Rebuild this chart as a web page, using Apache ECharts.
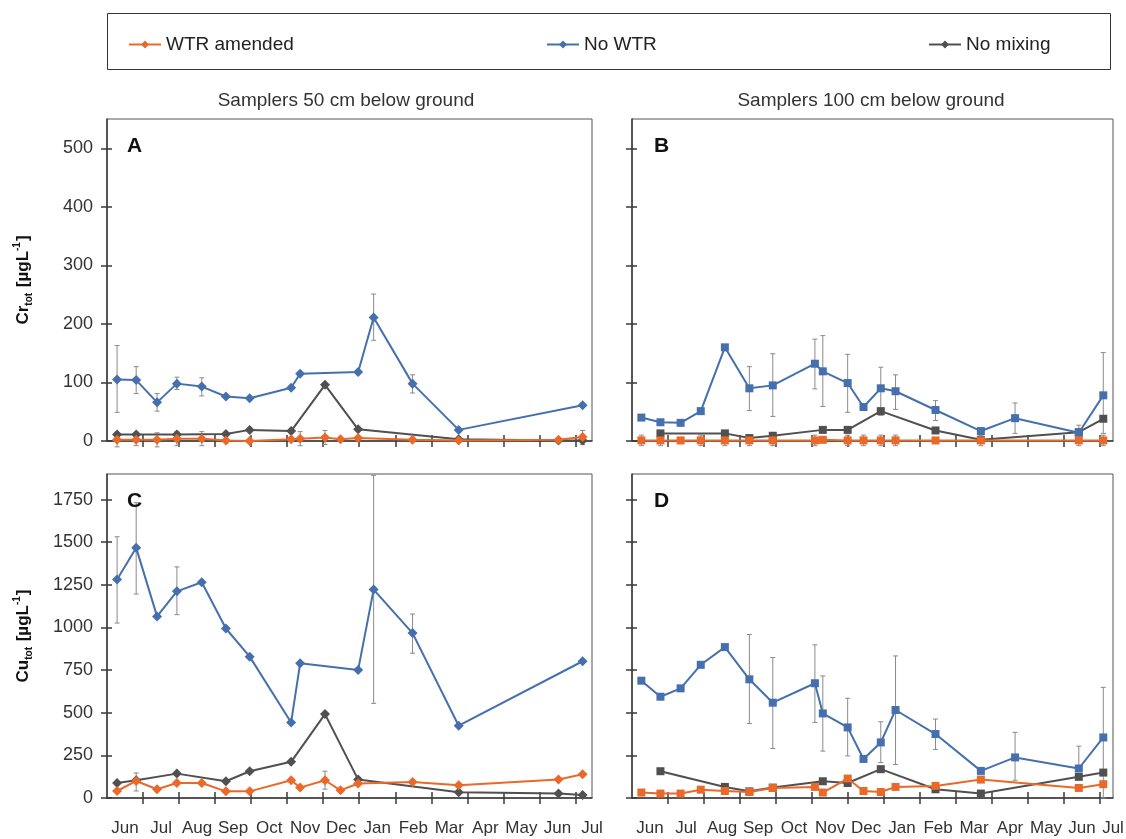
<!DOCTYPE html>
<html>
<head>
<meta charset="utf-8">
<script src="https://cdn.jsdelivr.net/npm/echarts@6/dist/echarts.min.js"></script>
<style>
  html, body { margin: 0; background: #fff; }
  #chart { width: 1126px; height: 839px; }
</style>
</head>
<body>
<div id="chart"></div>
<script>
// month names, one per month starting 1 June
var months = ['Jun', 'Jul', 'Aug', 'Sep', 'Oct', 'Nov', 'Dec', 'Jan', 'Feb', 'Mar', 'Apr', 'May', 'Jun', 'Jul'];

// sampling times in months since 1 June
var t50 = [0.28, 0.81, 1.39, 1.94, 2.63, 3.30, 3.96, 5.11, 5.36, 6.05, 6.48, 6.97, 7.40, 8.48, 9.76, 12.53, 13.20];
var t100 = [0.26, 0.79, 1.35, 1.91, 2.58, 3.26, 3.91, 5.08, 5.30, 5.99, 6.43, 6.91, 7.32, 8.43, 9.69, 10.64, 12.41, 13.09];

var crTicks = [0, 100, 200, 300, 400, 500];
var cuTicks = [0, 250, 500, 750, 1000, 1250, 1500, 1750];

// Cr, 50 cm
var crWtr50 = [2, 2, 2, 4, 4, 1, 0, 3, 4, 6, 3, 5, null, 2, 1, 2, 7];
var crNoWtr50 = [105, 104, 66, 98, 93, 76, 73, 91, 115, null, null, 118, 211, 98, 19, null, 61];
var crNoMix50 = [11, 11, null, 11, null, 12, 19, 17, null, 96, null, 20, null, null, 3, 1, 1];
// Cu, 50 cm
var cuWtr50 = [41, 100, 51, 88, 88, 39, 39, 104, 61, 104, 45, 85, null, 94, 75, 108, 139];
var cuNoWtr50 = [1281, 1467, 1065, 1212, 1265, 994, 829, 443, 790, null, null, 751, 1222, 967, 424, null, 802];
var cuNoMix50 = [88, 104, null, 143, null, 98, 157, 212, null, 492, null, 108, null, null, 34, 27, 18];
// Cr, 100 cm
var crWtr100 = [1, 1, 1, 1, 1, 1, 1, 1, 2, 1, 1, 1, 1, 1, 1, null, 1, 1];
var crNoWtr100 = [40, 32, 31, 51, 160, 90, 95, 132, 119, 99, 58, 90, 85, 53, 17, 39, 14, 78];
var crNoMix100 = [null, 13, null, null, 13, 5, 9, null, 19, 19, null, 51, null, 18, 2, null, 15, 38];
// Cu, 100 cm
var cuWtr100 = [32, 26, 26, 49, 41, 35, 59, 65, 32, 114, 41, 35, 65, 71, 108, null, 59, 81];
var cuNoWtr100 = [688, 594, 643, 781, 885, 696, 559, 673, 496, 414, 229, 326, 516, 375, 159, 238, 173, 355];
var cuNoMix100 = [null, 157, null, null, 65, 39, 61, null, 98, 88, null, 169, null, 51, 26, null, 124, 149];

// error bars: [sample index, low, high]
var crErr50 = [[0, 49, 163], [1, 81, 127], [2, 51, 81], [3, 88, 109], [4, 77, 108], [12, 172, 251], [13, 82, 113],
  [0, -10, 14], [1, -8, 12], [2, -10, 14], [3, -8, 16], [4, -8, 16], [8, -8, 16], [9, -6, 18], [16, -6, 18]];
var cuErr50 = [[0, 1026, 1532], [1, 1196, 1732], [3, 1075, 1355], [12, 555, 1892], [13, 849, 1079],
  [1, 41, 147], [9, 52, 157]];
var crErr100 = [[5, 52, 127], [6, 42, 149], [7, 89, 174], [8, 59, 180], [9, 49, 148], [11, 44, 126], [12, 54, 113],
  [13, 35, 69], [15, 13, 65], [16, 4, 27], [17, 13, 151],
  [0, -8, 10], [1, -8, 10], [3, -8, 10], [4, -8, 10], [5, -8, 10], [6, -8, 10], [7, -8, 10], [9, -8, 10],
  [10, -8, 10], [11, -8, 10], [12, -8, 10], [14, -8, 10], [16, -8, 10], [17, -8, 10]];
var cuErr100 = [[5, 437, 959], [6, 290, 824], [7, 443, 898], [8, 275, 716], [9, 247, 585], [11, 208, 447],
  [12, 196, 833], [13, 285, 463], [15, 104, 385], [16, 163, 304], [17, 0, 649]];

var colWtr = '#e8692a', colNoWtr = '#4570ad', colNoMix = '#505050';
var axisCol = '#3a3a3a';

var panels = [
  { letter: 'A', left: 107, top: 119, width: 485, height: 322, xMax: 13.46, yMax: 550, ticks: crTicks, t: t50,
    symbol: 'diamond', size: 10, wtr: crWtr50, noWtr: crNoWtr50, noMix: crNoMix50, err: crErr50, yLab: true, xLab: false },
  { letter: 'B', left: 632, top: 119, width: 481, height: 322, xMax: 13.36, yMax: 550, ticks: crTicks, t: t100,
    symbol: 'rect', size: 8, wtr: crWtr100, noWtr: crNoWtr100, noMix: crNoMix100, err: crErr100, yLab: false, xLab: false },
  { letter: 'C', left: 107, top: 474, width: 485, height: 324, xMax: 13.46, yMax: 1900, ticks: cuTicks, t: t50,
    symbol: 'diamond', size: 10, wtr: cuWtr50, noWtr: cuNoWtr50, noMix: cuNoMix50, err: cuErr50, yLab: true, xLab: true },
  { letter: 'D', left: 632, top: 474, width: 481, height: 324, xMax: 13.36, yMax: 1900, ticks: cuTicks, t: t100,
    symbol: 'rect', size: 8, wtr: cuWtr100, noWtr: cuNoWtr100, noMix: cuNoMix100, err: cuErr100, yLab: false, xLab: true }
];

var yNames = {
  A: '{a|Cr}{s|tot}{a| [µgL}{p|-1}{a|]}',
  C: '{a|Cu}{s|tot}{a| [µgL}{p|-1}{a|]}'
};

function pairs(t, vals) {
  var out = [];
  vals.forEach(function (v, i) {
    if (v !== null) out.push([t[i], v]);
  });
  return out;
}

var monthBounds = months.slice(1).map(function (m, i) { return i + 1; });
var monthStarts = months.map(function (m, i) { return i; });

var option = {
  backgroundColor: '#fff',
  animation: false,
  textStyle: { fontFamily: 'Liberation Sans, Arial, sans-serif' },
  title: [
    { text: 'Samplers 50 cm below ground', left: 341, top: 86, textAlign: 'center',
      textStyle: { fontSize: 19, fontWeight: 'normal', color: '#333' } },
    { text: 'Samplers 100 cm below ground', left: 866, top: 86, textAlign: 'center',
      textStyle: { fontSize: 19, fontWeight: 'normal', color: '#333' } }
  ],
  legend: [
    { data: ['WTR amended'], left: 123, top: 30 },
    { data: ['No WTR'], left: 541, top: 30 },
    { data: ['No mixing'], left: 923, top: 30 }
  ].map(function (l) {
    l.selectedMode = false;
    l.itemWidth = 32;
    l.itemHeight = 10;
    l.itemGap = 6;
    l.textStyle = { fontSize: 19, color: '#222' };
    return l;
  }),
  graphic: [{
    type: 'rect',
    shape: { x: 107.5, y: 13.5, width: 1003, height: 56 },
    style: { fill: 'none', stroke: '#333', lineWidth: 1 }
  }],
  grid: [],
  xAxis: [],
  yAxis: [],
  series: []
};

panels.forEach(function (p, gi) {
  var pxPerMonth = p.width / p.xMax;
  var lastIdx = months.length - 1;

  option.grid.push({
    left: p.left, top: p.top, width: p.width, height: p.height,
    outerBoundsMode: 'none', containLabel: false,
    show: true, borderColor: '#555', borderWidth: 1, backgroundColor: 'transparent'
  });
  option.title.push({
    text: p.letter, left: p.letter === 'A' || p.letter === 'C' ? 122 : 649, top: p.top + 12,
    textStyle: { fontSize: 21, fontWeight: 'bold', color: '#111' }
  });

  // outer axes: line, outward ticks, labels
  option.xAxis.push({
    gridIndex: gi, type: 'value', position: 'bottom', min: 0, max: p.xMax,
    axisLine: { show: true, lineStyle: { color: axisCol, width: 1.5 } },
    axisTick: { show: true, inside: false, length: 6, customValues: monthBounds, lineStyle: { color: axisCol, width: 1.5 } },
    axisLabel: {
      show: p.xLab, customValues: monthStarts, align: 'left', margin: 22,
      formatter: function (v) {
        var i = Math.round(v);
        return (i === lastIdx ? '{e|' : '{m|') + months[i] + '}';
      },
      rich: {
        m: { width: pxPerMonth, align: 'center', fontSize: 17, color: '#333' },
        // last month is only partly shown, centre its label on the visible part
        e: { width: (p.xMax - lastIdx) * pxPerMonth * 2, align: 'center', fontSize: 17, color: '#333' }
      }
    },
    splitLine: { show: false }
  });
  // inner axes: inward ticks only
  option.xAxis.push({
    gridIndex: gi, type: 'value', position: 'bottom', min: 0, max: p.xMax,
    axisLine: { show: false },
    axisTick: { show: true, inside: true, length: 6, customValues: monthBounds, lineStyle: { color: axisCol, width: 1.5 } },
    axisLabel: { show: false },
    splitLine: { show: false }
  });

  var yOuter = {
    gridIndex: gi, type: 'value', position: 'left', min: 0, max: p.yMax,
    axisLine: { show: true, lineStyle: { color: axisCol, width: 1.5 } },
    axisTick: { show: true, inside: false, length: 6, customValues: p.ticks, lineStyle: { color: axisCol, width: 1.5 } },
    axisLabel: {
      show: p.yLab, customValues: p.ticks, margin: 14, fontSize: 18, color: '#333',
      formatter: function (v) { return String(v); }
    },
    splitLine: { show: false }
  };
  if (yNames[p.letter]) {
    yOuter.name = yNames[p.letter];
    yOuter.nameLocation = 'middle';
    yOuter.nameGap = 73;
    yOuter.nameTextStyle = {
      rich: {
        a: { fontSize: 17, fontWeight: 'bold', color: '#111', lineHeight: 22 },
        s: { fontSize: 10, fontWeight: 'bold', color: '#111', lineHeight: 22, verticalAlign: 'bottom', padding: [0, 1, 0, 0] },
        p: { fontSize: 10, fontWeight: 'bold', color: '#111', lineHeight: 22, verticalAlign: 'top', padding: [0, 1, 0, 0] }
      }
    };
  }
  option.yAxis.push(yOuter);
  option.yAxis.push({
    gridIndex: gi, type: 'value', position: 'left', min: 0, max: p.yMax,
    axisLine: { show: false },
    axisTick: { show: true, inside: true, length: 5, customValues: p.ticks, lineStyle: { color: axisCol, width: 1.5 } },
    axisLabel: { show: false },
    splitLine: { show: false }
  });

  var xi = gi * 2, yi = gi * 2;

  option.series.push({
    type: 'custom', xAxisIndex: xi, yAxisIndex: yi, z: 1, silent: true,
    data: p.err.map(function (e) { return [p.t[e[0]], e[1], e[2]]; }),
    renderItem: function (params, api) {
      var lo = api.coord([api.value(0), api.value(1)]);
      var hi = api.coord([api.value(0), api.value(2)]);
      var c = 2.5;
      var st = { stroke: '#8a8a8a', lineWidth: 1 };
      return {
        type: 'group',
        children: [
          { type: 'line', shape: { x1: lo[0], y1: lo[1], x2: hi[0], y2: hi[1] }, style: st },
          { type: 'line', shape: { x1: lo[0] - c, y1: lo[1], x2: lo[0] + c, y2: lo[1] }, style: st },
          { type: 'line', shape: { x1: hi[0] - c, y1: hi[1], x2: hi[0] + c, y2: hi[1] }, style: st }
        ]
      };
    }
  });

  [['No mixing', p.noMix, colNoMix], ['No WTR', p.noWtr, colNoWtr], ['WTR amended', p.wtr, colWtr]].forEach(function (s, k) {
    option.series.push({
      name: s[0], type: 'line', xAxisIndex: xi, yAxisIndex: yi, z: 2 + k,
      data: pairs(p.t, s[1]),
      symbol: p.symbol, symbolSize: p.size, showSymbol: true,
      lineStyle: { color: s[2], width: 2 },
      itemStyle: { color: s[2] },
      emphasis: { disabled: true }
    });
  });
});

var myChart = echarts.init(document.getElementById('chart'), null, { renderer: 'canvas' });
myChart.setOption(option);
</script>
</body>
</html>
